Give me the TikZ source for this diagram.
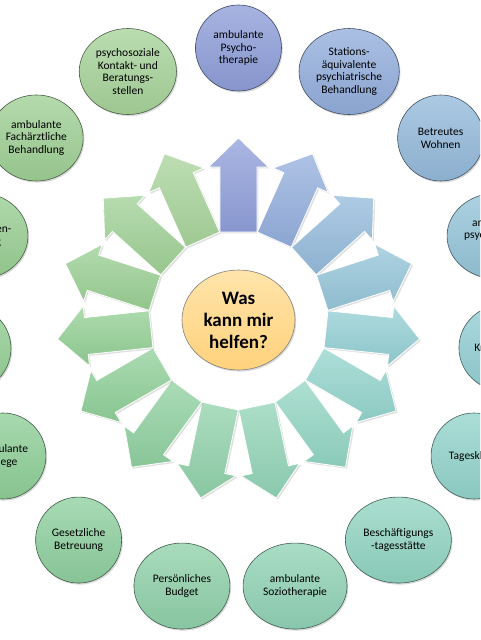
\documentclass[tikz,border=0pt]{standalone}
\usepackage{fontspec}
\setmainfont{Carlito}
\usetikzlibrary{calc,shapes.geometric,shadows}

\definecolor{hue0}{HTML}{8E9ED9}
\definecolor{hue1}{HTML}{93AEDC}
\definecolor{hue2}{HTML}{94BADB}
\definecolor{hue3}{HTML}{95C5D9}
\definecolor{hue4}{HTML}{93CFD4}
\definecolor{hue5}{HTML}{93D4CC}
\definecolor{hue6}{HTML}{92D5C2}
\definecolor{hue7}{HTML}{91D3B6}
\definecolor{hue8}{HTML}{90D1AA}
\definecolor{hue9}{HTML}{8FD09F}
\definecolor{hue10}{HTML}{8FCF98}
\definecolor{hue11}{HTML}{93CF94}
\definecolor{hue12}{HTML}{99CF93}
\definecolor{hue13}{HTML}{9FD095}
\definecolor{hue14}{HTML}{A7D39A}
\definecolor{hubtop}{HTML}{FFE4AA}
\definecolor{hubbottom}{HTML}{FFD27C}

\begin{document}
\begin{tikzpicture}[
  font=\fontsize{11.5}{12.8}\selectfont,
  bubble/.style={ellipse, draw=#1!45!black, line width=0.6pt,
    top color=#1!78!white, bottom color=#1!94!black,
    minimum width=86pt, minimum height=86pt, inner sep=2.5pt, align=center,
    drop shadow={shadow xshift=1.2pt, shadow yshift=-1.6pt, opacity=.3}},
  blockarrow/.style={draw=white, line width=0.8pt,
    top color=#1!75!white, bottom color=#1!95!black,
    drop shadow={shadow xshift=1.5pt, shadow yshift=-1.5pt, opacity=.25}},
  hub/.style={ellipse, draw=black!50, line width=0.6pt,
    top color=hubtop, bottom color=hubbottom,
    minimum width=113pt, minimum height=100pt, align=center,
    font=\fontsize{19}{22}\selectfont\bfseries,
    drop shadow={shadow xshift=1.2pt, shadow yshift=-1.6pt, opacity=.3}}
]
  \useasboundingbox (-238.5pt,-320pt) rectangle (241.5pt,320pt);
  \clip (-238.5pt,-320pt) rectangle (241.5pt,320pt);

  \foreach \ang/\col in {90/hue0, 66/hue1, 42/hue2, 18/hue3, -6/hue4,
      -30/hue5, -54/hue6, -78/hue7, -102/hue8, -126/hue9, -150/hue10,
      -174/hue11, 162/hue12, 138/hue13, 114/hue14}
    \path[blockarrow=\col]
      ($(\ang:88pt)+(\ang-90:18.5pt)$) -- ($(\ang:153pt)+(\ang-90:18.5pt)$)
      -- ($(\ang:153pt)+(\ang-90:30pt)$) -- (\ang:182pt)
      -- ($(\ang:153pt)+(\ang+90:30pt)$) -- ($(\ang:153pt)+(\ang+90:18.5pt)$)
      -- ($(\ang:88pt)+(\ang+90:18.5pt)$) -- cycle;

  \node[hub] (help) at (0,0) {Was\\kann mir\\helfen?};

  \node[bubble=hue0] (psychotherapie) at (90:272pt) {ambulante\\Psycho-\\therapie};
  \node[bubble=hue1] (stationsaeq) at (66:272pt) {Stations-\\äquivalente\\psychiatrische\\Behandlung};
  \node[bubble=hue2] (wohnen) at (42:272pt) {Betreutes\\Wohnen};
  \node[bubble=hue3] (psychpflege) at (18:272pt) {ambulante\\psychiatrische\\Pflege};
  \node[bubble=hue4] (krise) at (-6:266pt) {Krisendienst};
  \node[bubble=hue5] (tagesklinik) at (-30:272pt) {Tagesklinik};
  \node[bubble=hue6] (tagesstaette) at (-54:272pt) {Beschäftigungs\\-tagesstätte};
  \node[bubble=hue7, minimum width=104pt] (soziotherapie) at (-78:272pt) {ambulante\\Soziotherapie};
  \node[bubble=hue8, minimum width=96pt] (budget) at (-102:272pt) {Persönliches\\Budget};
  \node[bubble=hue9] (betreuung) at (-126:272pt) {Gesetzliche\\Betreuung};
  \node[bubble=hue10] (pflege) at (-150:272pt) {ambulante\\Pflege};
  \node[bubble=hue11] (klinik) at (-174:272pt) {};
  \node[bubble=hue12] (angehoerige) at (162:272pt) {Angehörigen-\\beratung};
  \node[bubble=hue13] (facharzt) at (138:272pt) {ambulante\\Fachärztliche\\Behandlung};
  \node[bubble=hue14] (kontaktstelle) at (114:272pt) {psychosoziale\\Kontakt- und\\Beratungs-\\stellen};
\end{tikzpicture}
\end{document}
